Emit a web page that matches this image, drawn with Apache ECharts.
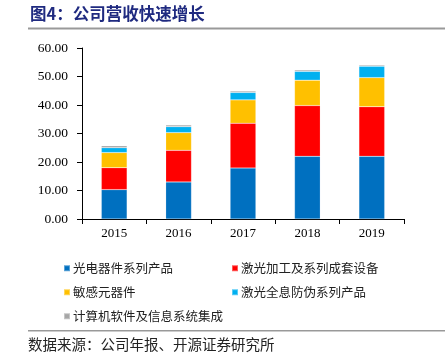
<!DOCTYPE html>
<html><head><meta charset="utf-8">
<script src="https://cdn.jsdelivr.net/npm/echarts@6/dist/echarts.min.js"></script>
<style>html,body{margin:0;padding:0;background:#fff}#c{width:445px;height:356px}</style>
</head><body><div id="c"></div>
<script>
var categories = ['2015','2016','2017','2018','2019'];
var seriesNames = ['光电器件系列产品','激光加工及系列成套设备','敏感元器件','激光全息防伪系列产品','计算机软件及信息系统集成'];
var optoDevices = [10.3, 13.0, 17.9, 22.0, 22.0];
var laserEquip = [7.7, 11.1, 15.7, 17.8, 17.4];
var sensitive = [5.3, 6.2, 8.2, 8.9, 10.2];
var hologram = [1.7, 2.1, 2.6, 3.1, 4.0];
var software = [0.7, 0.6, 0.5, 0.5, 0.4];
var yTicks = [0, 10, 20, 30, 40, 50, 60];

var colors = ['#0070C0','#FF0000','#FFC000','#00B0F0','#A6A6A6'];
var dataSets = [optoDevices, laserEquip, sensitive, hologram, software];
var cjk = '"Noto Sans CJK SC", sans-serif';
var serif = '"Liberation Serif", "DejaVu Serif", serif';

var chart = echarts.init(document.getElementById('c'));
var legendPos = [[58,257],[226,257],[58,281],[226,281],[58,305]];
var legends = seriesNames.map(function(n,i){
  return {
    data:[n], left: legendPos[i][0], top: legendPos[i][1],
    icon:'rect', itemWidth:6, itemHeight:6, itemGap:0,
    textStyle:{fontFamily:cjk, fontSize:12.5, color:'#222', padding:[0,0,0,-2]}
  };
});
chart.setOption({
  animation:false,
  color: colors,
  grid:{left:82, right:41, top:48, bottom:137},
  legend: legends,
  xAxis:{
    type:'category', data:categories,
    axisLine:{lineStyle:{color:'#000', width:1}},
    axisTick:{show:true, length:5, lineStyle:{color:'#000'}},
    axisLabel:{fontFamily:serif, fontSize:13, color:'#000', margin:8}
  },
  yAxis:{
    type:'value', min:yTicks[0], max:yTicks[yTicks.length-1], interval:10,
    axisLine:{show:true, lineStyle:{color:'#000'}},
    axisTick:{show:true, length:5, lineStyle:{color:'#000'}},
    splitLine:{show:false},
    axisLabel:{fontFamily:serif, fontSize:13.5, color:'#000', margin:14,
      formatter:function(v){return v.toFixed(2);}}
  },
  series: seriesNames.map(function(n,i){
    return {name:n, type:'bar', stack:'total', data:dataSets[i], barWidth:'40%',
      itemStyle:{color:colors[i], borderColor:'rgba(255,255,255,0.35)', borderWidth:0.5}};
  }),
  graphic:[
    {type:'text', left:30, top:5, style:{text:'图4：公司营收快速增长', font:'bold 16.5px "Noto Sans CJK SC"', fill:'#1F2A80'}},
    {type:'rect', shape:{x:28, y:27.5, width:417, height:2}, style:{fill:'#999'}},
    {type:'rect', shape:{x:28, y:330, width:417, height:1.5}, style:{fill:'#999'}},
    {type:'text', left:28, top:337, style:{text:'数据来源：公司年报、开源证券研究所', font:'14.5px "Noto Sans CJK SC"', fill:'#222'}}
  ]
});
</script></body></html>
